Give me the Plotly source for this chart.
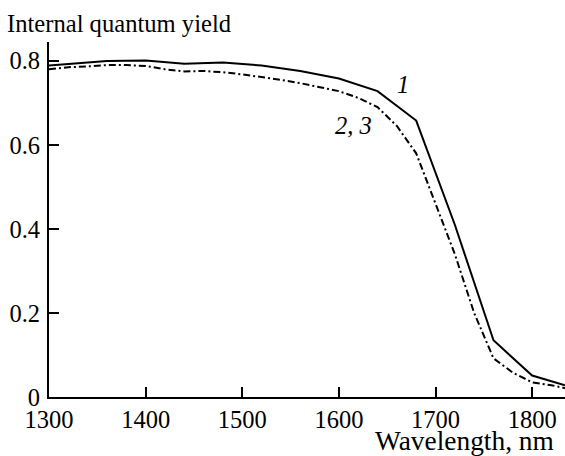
import plotly.graph_objects as go

wl1 = [1300, 1340, 1360, 1400, 1440, 1480, 1520, 1560, 1600, 1640, 1680, 1720, 1760, 1800, 1834]
qy1 = [0.789, 0.796, 0.800, 0.801, 0.793, 0.796, 0.789, 0.776, 0.758, 0.728, 0.658, 0.41, 0.135, 0.051, 0.028]

wl23 = [1300, 1320, 1340, 1360, 1380, 1400, 1420, 1440, 1460, 1480, 1500, 1520, 1540, 1560, 1580,
        1600, 1620, 1640, 1660, 1680, 1700, 1720, 1740, 1760, 1780, 1800, 1820, 1834]
qy23 = [0.780, 0.785, 0.787, 0.790, 0.790, 0.788, 0.780, 0.775, 0.776, 0.773, 0.768, 0.762, 0.755, 0.747, 0.738,
        0.728, 0.712, 0.690, 0.645, 0.580, 0.460, 0.340, 0.200, 0.092, 0.058, 0.035, 0.028, 0.021]

x_ticks = [1300, 1400, 1500, 1600, 1700, 1800]
y_ticks = [0, 0.2, 0.4, 0.6, 0.8]
y_tick_text = ["0", "0.2", "0.4", "0.6", "0.8"]

FONT = "Liberation Serif"

fig = go.Figure()
fig.add_trace(go.Scatter(x=wl23, y=qy23, mode="lines",
                         line=dict(color="black", width=2, dash="7px,3px,2px,3px"),
                         showlegend=False))
fig.add_trace(go.Scatter(x=wl1, y=qy1, mode="lines",
                         line=dict(color="black", width=2),
                         showlegend=False))

fig.update_layout(
    width=565, height=456,
    margin=dict(l=49, r=0, t=42, b=59),
    paper_bgcolor="white", plot_bgcolor="white",
    font=dict(family=FONT, size=24, color="black"),
    xaxis=dict(range=[1300, 1834], tickvals=x_ticks, ticks="inside", ticklen=10, tickwidth=2,
               tickcolor="black", showline=True, linecolor="black", linewidth=2,
               showgrid=False, zeroline=False, tickfont=dict(size=24.5)),
    yaxis=dict(range=[0, 0.845], tickvals=y_ticks, ticktext=y_tick_text, ticks="inside",
               ticklen=10, tickwidth=2, tickcolor="black", showline=True, linecolor="black",
               linewidth=2, showgrid=False, zeroline=False, tickfont=dict(size=24.5),
               ticklabelstandoff=2),
    annotations=[
        dict(text="Internal quantum yield", xref="paper", yref="paper", x=-0.0853, y=1.0535,
             xanchor="left", yanchor="middle", showarrow=False, font=dict(size=24.6)),
        dict(text="Wavelength, nm", xref="paper", yref="paper", x=0.9826, y=-0.125,
             xanchor="right", yanchor="middle", showarrow=False, font=dict(size=27.4)),
        dict(text="<i>1</i>", x=1666, y=0.743, xref="x", yref="y", showarrow=False,
             font=dict(size=24.5)),
        dict(text="<i>2, 3</i>", x=1615, y=0.647, xref="x", yref="y", showarrow=False,
             font=dict(size=24.5)),
    ],
)

fig.write_html("out.html")
